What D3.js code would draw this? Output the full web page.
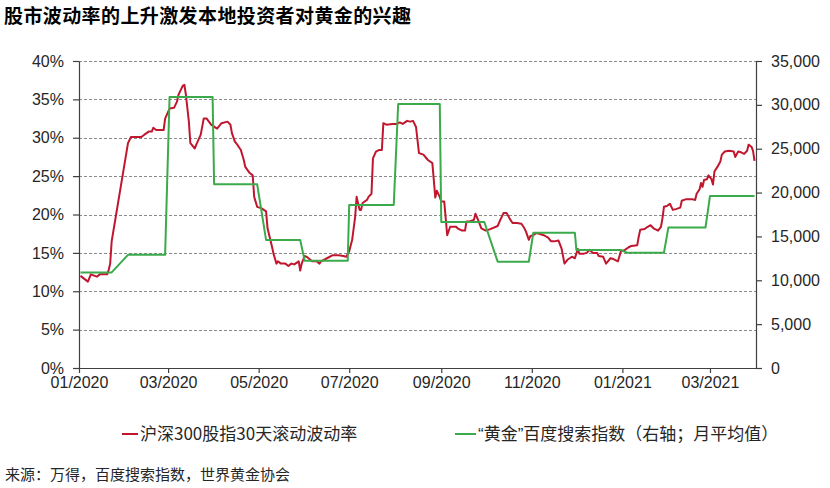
<!DOCTYPE html>
<html><head><meta charset="utf-8">
<script src="https://cdn.jsdelivr.net/npm/d3@7/dist/d3.min.js"></script>
<style>
html,body{margin:0;padding:0;background:#fff;}
svg{display:block;}
</style></head>
<body>
<svg id="chart" width="830" height="488"></svg>
<script>
// ---- Data ----
const titleText = "股市波动率的上升激发本地投资者对黄金的兴趣";
const sourceText = "来源：万得，百度搜索指数，世界黄金协会";
const seriesNames = ["沪深300股指30天滚动波动率", "“黄金”百度搜索指数（右轴；月平均值）"];

const leftTicks = [0, 0.05, 0.10, 0.15, 0.20, 0.25, 0.30, 0.35, 0.40];
const rightTicks = [0, 5000, 10000, 15000, 20000, 25000, 30000, 35000];
const xTickDates = ["2020-01-01","2020-03-01","2020-05-01","2020-07-01","2020-09-01","2020-11-01","2021-01-01","2021-03-01"];

// CSI 300 30-day rolling volatility (%)
const volDates = [
"2020-01-02","2020-01-07","2020-01-09","2020-01-13","2020-01-15","2020-01-20","2020-01-21","2020-01-22","2020-01-23",
"2020-02-03","2020-02-05","2020-02-12","2020-02-14","2020-02-17","2020-02-19","2020-02-20","2020-02-22","2020-02-27","2020-02-28",
"2020-03-02","2020-03-05","2020-03-07","2020-03-08","2020-03-10","2020-03-11","2020-03-12","2020-03-13","2020-03-15","2020-03-16",
"2020-03-19","2020-03-20","2020-03-23","2020-03-25","2020-03-27","2020-03-30",
"2020-04-03","2020-04-06","2020-04-10","2020-04-12","2020-04-13","2020-04-15","2020-04-17","2020-04-19","2020-04-21","2020-04-22",
"2020-04-25","2020-04-27","2020-04-28","2020-04-30",
"2020-05-03","2020-05-06","2020-05-07","2020-05-10","2020-05-11","2020-05-13","2020-05-14","2020-05-16","2020-05-19","2020-05-21",
"2020-05-23","2020-05-25","2020-05-28","2020-05-29","2020-05-30",
"2020-06-01","2020-06-03","2020-06-06","2020-06-09","2020-06-11","2020-06-12","2020-06-16","2020-06-20","2020-06-24","2020-06-27","2020-06-29",
"2020-07-01","2020-07-03","2020-07-05","2020-07-06","2020-07-08","2020-07-09","2020-07-10","2020-07-13","2020-07-14","2020-07-16",
"2020-07-17","2020-07-19","2020-07-21","2020-07-23","2020-07-24","2020-07-26","2020-07-30",
"2020-08-02","2020-08-04","2020-08-06","2020-08-09","2020-08-11","2020-08-13","2020-08-15","2020-08-17","2020-08-20","2020-08-23",
"2020-08-26","2020-08-28","2020-08-29","2020-08-31",
"2020-09-01","2020-09-03","2020-09-05","2020-09-07","2020-09-11","2020-09-12","2020-09-15","2020-09-17","2020-09-18","2020-09-20",
"2020-09-23","2020-09-24","2020-09-26","2020-09-28",
"2020-10-01","2020-10-04","2020-10-09","2020-10-11","2020-10-13","2020-10-15","2020-10-17","2020-10-19","2020-10-22","2020-10-25",
"2020-10-27","2020-10-28","2020-10-30","2020-10-31",
"2020-11-02","2020-11-04","2020-11-06","2020-11-09","2020-11-12","2020-11-14","2020-11-16","2020-11-19","2020-11-21","2020-11-23",
"2020-11-25","2020-11-28","2020-11-30",
"2020-12-02","2020-12-03","2020-12-06","2020-12-08","2020-12-10","2020-12-12","2020-12-15","2020-12-16","2020-12-19","2020-12-21",
"2020-12-24","2020-12-26","2020-12-29","2020-12-31",
"2021-01-02","2021-01-05","2021-01-07","2021-01-11","2021-01-12","2021-01-13","2021-01-16","2021-01-18","2021-01-20","2021-01-22",
"2021-01-25","2021-01-27","2021-01-28","2021-01-29","2021-01-31",
"2021-02-02","2021-02-04","2021-02-06","2021-02-09","2021-02-10","2021-02-13","2021-02-17","2021-02-19","2021-02-20","2021-02-22",
"2021-02-23","2021-02-24","2021-02-25","2021-02-27","2021-02-28",
"2021-03-02","2021-03-03","2021-03-04","2021-03-06","2021-03-08","2021-03-09","2021-03-11","2021-03-14","2021-03-17","2021-03-18",
"2021-03-20","2021-03-22","2021-03-24","2021-03-26","2021-03-27","2021-03-29","2021-03-30","2021-03-31"
];
const volValues = [
12.0,11.25,12.2,11.9,12.2,12.2,12.8,13.6,16.5,
29.3,30.1,30.1,30.4,30.8,30.8,31.3,31.0,31.0,32.5,
33.8,33.9,34.7,35.6,36.4,36.8,36.9,35.6,32.1,29.3,
28.6,29.1,30.4,32.5,32.5,31.7,
31.2,31.9,32.1,31.7,30.6,29.5,29.0,28.4,27.1,26.2,
25.4,25.1,22.3,21.0,
20.8,20.4,18.2,15.8,14.9,13.6,13.9,13.6,13.6,13.3,
13.6,13.5,13.9,12.7,13.6,
14.6,14.4,13.9,13.9,13.6,13.9,14.3,14.7,14.7,14.6,14.5,
15.2,16.7,19.7,22.3,20.6,20.6,21.5,21.9,22.3,22.7,
27.3,28.2,28.4,28.4,31.9,31.7,31.8,
31.8,32.0,31.8,32.2,32.1,32.2,31.4,28.0,27.8,27.1,
26.7,22.2,23.1,22.3,
21.7,21.7,17.3,18.4,18.4,18.2,17.9,17.9,19.1,19.1,
19.3,20.1,19.2,18.2,
17.9,18.1,18.5,19.4,20.2,20.2,19.5,18.9,18.9,18.8,
18.2,17.8,16.7,17.2,
17.3,17.6,17.5,17.3,17.0,16.5,16.5,16.6,15.6,13.6,
14.1,14.5,14.3,
15.5,14.9,14.9,15.0,15.4,15.0,15.0,14.6,14.5,13.6,
14.3,14.2,13.9,15.2,
15.3,15.7,15.9,16.0,17.1,18.0,18.1,18.4,18.6,18.2,
17.9,18.4,19.5,21.0,21.1,
21.4,20.6,20.7,20.9,21.8,22.0,22.0,21.9,22.7,23.3,
24.1,23.6,24.5,24.6,25.1,
24.6,23.9,25.6,26.2,26.9,27.8,28.2,28.3,28.2,27.5,
28.2,28.1,27.9,28.3,29.1,28.8,28.3,27.0
];

// "黄金" Baidu search index, monthly average (first / last trading day of each month)
const searchStart = ["2020-01-02","2020-02-03","2020-03-02","2020-04-01","2020-05-06","2020-06-01","2020-07-01","2020-08-03",
  "2020-09-01","2020-10-09","2020-11-02","2020-12-01","2021-01-04","2021-02-01","2021-03-01"];
const searchEnd = ["2020-01-23","2020-02-28","2020-03-31","2020-04-30","2020-05-29","2020-06-30","2020-07-31","2020-08-31",
  "2020-09-30","2020-10-30","2020-11-30","2020-12-31","2021-01-29","2021-02-26","2021-03-31"];
const searchValues = [10900,12900,30900,20950,14600,12230,18580,30100,16650,12120,15420,13450,13150,16030,19600];

// ---- Chart ----
const parse = d3.timeParse("%Y-%m-%d");
const svg = d3.select("#chart");
const L = 79, R = 756, T = 61, B = 368;
const numFont = "'Liberation Sans', Arial, sans-serif";
const cjkFont = "'Noto Sans CJK SC', 'Noto Sans', sans-serif";

const x = d3.scaleTime().domain([parse("2020-01-01"), parse("2021-04-01")]).range([L, R]);
const yL = d3.scaleLinear().domain([0, 0.40]).range([B, T]);
const yR = d3.scaleLinear().domain([0, 35000]).range([B, T]);

// title
svg.append("text").attr("x", 4).attr("y", 22.5)
  .attr("font-family", cjkFont).attr("font-size", 19).attr("font-weight", "bold")
  .attr("letter-spacing", 0.4)
  .attr("fill", "#000").text(titleText);

// gridlines
svg.append("g").selectAll("line").data(leftTicks.filter(d => d > 0)).join("line")
  .attr("x1", L).attr("x2", R)
  .attr("y1", d => Math.round(yL(d)) + 0.5).attr("y2", d => Math.round(yL(d)) + 0.5)
  .attr("stroke", "#8a8a8a").attr("stroke-width", 1).attr("stroke-dasharray", "3,2");

function styleAxis(g) {
  g.select(".domain").attr("stroke", "#404040").attr("stroke-width", 1.2);
  g.selectAll(".tick line").attr("stroke", "#404040").attr("stroke-width", 1.2);
  g.selectAll(".tick text").attr("fill", "#262626").attr("font-family", numFont).attr("font-size", 16);
}

svg.append("g").attr("transform", `translate(${L},0)`)
  .call(d3.axisLeft(yL).tickValues(leftTicks).tickFormat(d3.format(".0%")).tickSize(6).tickSizeOuter(0).tickPadding(9))
  .call(styleAxis);

svg.append("g").attr("transform", `translate(${R},0)`)
  .call(d3.axisRight(yR).tickValues(rightTicks).tickFormat(d3.format(",")).tickSize(6).tickSizeOuter(0).tickPadding(9))
  .call(styleAxis);

svg.append("g").attr("transform", `translate(0,${B})`)
  .call(d3.axisBottom(x).tickValues(xTickDates.map(parse)).tickFormat(d3.timeFormat("%m/%Y")).tickSize(5).tickSizeOuter(0).tickPadding(4))
  .call(styleAxis);

// series
const volData = volDates.map((d, i) => ({date: parse(d), v: volValues[i] / 100}));
const searchData = [];
searchValues.forEach((v, i) => {
  searchData.push({date: parse(searchStart[i]), v});
  searchData.push({date: parse(searchEnd[i]), v});
});

svg.append("path").datum(volData)
  .attr("fill", "none").attr("stroke", "#C0172F").attr("stroke-width", 2).attr("stroke-linejoin", "round")
  .attr("d", d3.line().x(d => x(d.date)).y(d => yL(d.v)));

svg.append("path").datum(searchData)
  .attr("fill", "none").attr("stroke", "#3BAA4A").attr("stroke-width", 2).attr("stroke-linejoin", "round")
  .attr("d", d3.line().x(d => x(d.date)).y(d => yR(d.v)));

// legend
const legend = [
  {name: seriesNames[0], color: "#C0172F", x1: 122, x2: 138},
  {name: seriesNames[1], color: "#3BAA4A", x1: 455, x2: 476}
];
const lg = svg.append("g");
legend.forEach(l => {
  lg.append("line").attr("x1", l.x1).attr("x2", l.x2).attr("y1", 434).attr("y2", 434)
    .attr("stroke", l.color).attr("stroke-width", 2);
  const t = lg.append("text").attr("x", l.x2 + 2).attr("y", 440)
    .attr("font-family", cjkFont).attr("font-size", 17).attr("fill", "#262626");
  // render curly quotes in a Latin font so they stay narrow, as in the reference
  l.name.split(/([“”])/).filter(s => s.length).forEach(part => {
    const ts = t.append("tspan").text(part);
    if (part === "“" || part === "”") ts.attr("font-family", numFont);
  });
});

// source
svg.append("text").attr("x", 5).attr("y", 480)
  .attr("font-family", cjkFont).attr("font-size", 15).attr("fill", "#262626").text(sourceText);
</script>
</body></html>
